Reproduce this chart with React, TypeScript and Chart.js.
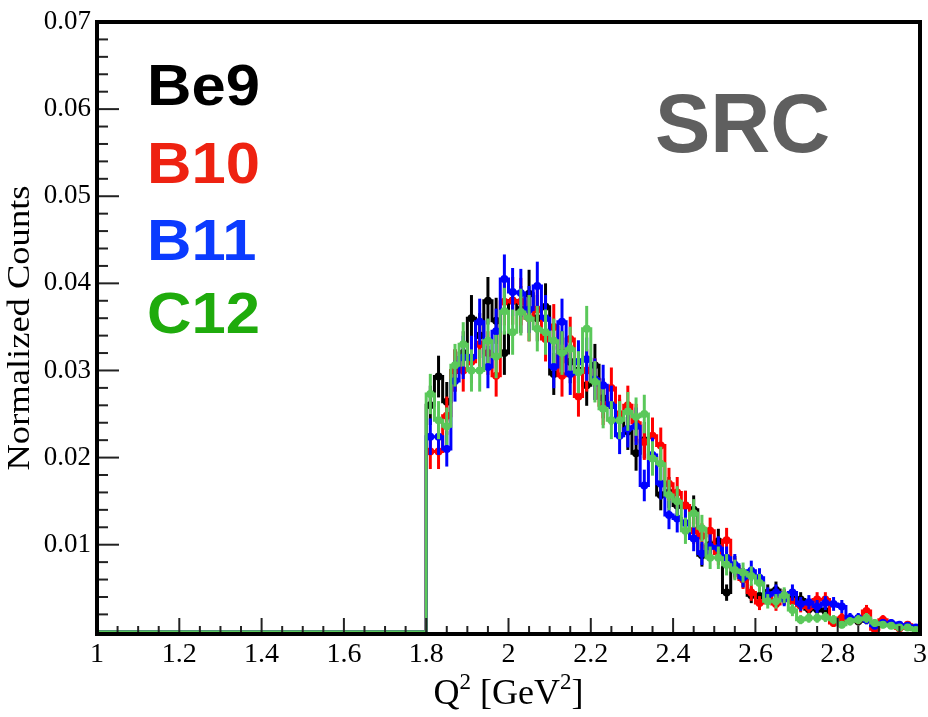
import React, { useEffect, useRef } from 'react';
import { Chart, registerables } from 'chart.js';
Chart.register(...registerables);

// ---- data (normalized counts per 0.02 GeV^2 bin, first bin starts at Q^2 = 1.80) ----
const histLow = 1.8;
const binWidth = 0.02;
const be9 = [
  0.0260, 0.0293, 0.0264, 0.0300, 0.0320, 0.0360, 0.0340, 0.0380, 0.0357, 0.0320,
  0.0380, 0.0370, 0.0388, 0.0360, 0.0373, 0.0296, 0.0320, 0.0310, 0.0300, 0.0283,
  0.0306, 0.0268, 0.0260, 0.0245, 0.0230, 0.0205, 0.0220, 0.0200, 0.0157, 0.0160,
  0.0145, 0.0145, 0.0140, 0.0088, 0.0100, 0.0104, 0.0045, 0.0075, 0.0062, 0.0042,
  0.0041, 0.0045, 0.0048, 0.0040, 0.0037, 0.0037, 0.0026, 0.0026, 0.0024, 0.0012,
  0.0015, 0.0014, 0.0012, 0.0014, 0.0008, 0.0010, 0.0008, 0.0006, 0.0006, 0.0003,
];
const b10 = [
  0.0207, 0.0207, 0.0248, 0.0300, 0.0300, 0.0310, 0.0330, 0.0320, 0.0294, 0.0379,
  0.0380, 0.0379, 0.0360, 0.0370, 0.0336, 0.0350, 0.0294, 0.0336, 0.0270, 0.0300,
  0.0290, 0.0260, 0.0280, 0.0250, 0.0260, 0.0240, 0.0218, 0.0225, 0.0214, 0.0170,
  0.0160, 0.0145, 0.0116, 0.0110, 0.0116, 0.0090, 0.0105, 0.0073, 0.0060, 0.0045,
  0.0033, 0.0040, 0.0032, 0.0040, 0.0035, 0.0030, 0.0028, 0.0037, 0.0037, 0.0010,
  0.0016, 0.0014, 0.0014, 0.0024, 0.0003, 0.0014, 0.0008, 0.0004, 0.0008, 0.0003,
];
const b11 = [
  0.0224, 0.0224, 0.0210, 0.0288, 0.0315, 0.0315, 0.0356, 0.0304, 0.0345, 0.0405,
  0.0390, 0.0389, 0.0370, 0.0397, 0.0360, 0.0304, 0.0356, 0.0296, 0.0310, 0.0313,
  0.0290, 0.0283, 0.0260, 0.0225, 0.0233, 0.0236, 0.0168, 0.0203, 0.0170, 0.0134,
  0.0130, 0.0125, 0.0107, 0.0090, 0.0098, 0.0096, 0.0085, 0.0077, 0.0062, 0.0070,
  0.0062, 0.0042, 0.0045, 0.0038, 0.0045, 0.0032, 0.0034, 0.0029, 0.0033, 0.0032,
  0.0029, 0.0016, 0.0016, 0.0014, 0.0007, 0.0010, 0.0010, 0.0008, 0.0007, 0.0005,
];
const c12 = [
  0.0273, 0.0243, 0.0236, 0.0306, 0.0330, 0.0300, 0.0300, 0.0334, 0.0316, 0.0368,
  0.0344, 0.0367, 0.0360, 0.0348, 0.0344, 0.0334, 0.0320, 0.0325, 0.0298, 0.0348,
  0.0287, 0.0256, 0.0243, 0.0243, 0.0253, 0.0247, 0.0250, 0.0199, 0.0193, 0.0157,
  0.0150, 0.0116, 0.0136, 0.0119, 0.0085, 0.0085, 0.0077, 0.0071, 0.0068, 0.0064,
  0.0056, 0.0035, 0.0035, 0.0042, 0.0025, 0.0014, 0.0016, 0.0016, 0.0017, 0.0014,
  0.0008, 0.0012, 0.0014, 0.0016, 0.0010, 0.0008, 0.0007, 0.0005, 0.0005, 0.0002,
];
const seriesNames = ['Be9', 'B10', 'B11', 'C12'];
const seriesValues = [be9, b10, b11, c12];
const lineColors = ['#000000', '#ff0000', '#0000ff', '#5ac85a'];
const labelColors = ['#000000', '#ee2211', '#0b3bff', '#1fab0c'];
const xTickValues = [1, 1.2, 1.4, 1.6, 1.8, 2, 2.2, 2.4, 2.6, 2.8, 3];
const yTickValues = [0.01, 0.02, 0.03, 0.04, 0.05, 0.06, 0.07];
const errScale = 0.014; // statistical error ~ sqrt(content)

const serif = "'Liberation Serif', 'Times New Roman', serif";
const sans = "'Liberation Sans', Arial, sans-serif";

const rootPlugin = {
  id: 'rootStyle',
  beforeDatasetDraw(chart: any, args: any) {
    const ds = chart.data.datasets[args.index];
    if (!ds.errors) return;
    const ctx = chart.ctx;
    const xs = chart.scales.x;
    const ys = chart.scales.y;
    ctx.save();
    ctx.strokeStyle = ds.pointBackgroundColor;
    ctx.lineWidth = 3;
    ds.data.forEach((p: any, i: number) => {
      const e = ds.errors[i];
      const px = xs.getPixelForValue(p.x);
      ctx.beginPath();
      ctx.moveTo(px, ys.getPixelForValue(p.y - e));
      ctx.lineTo(px, ys.getPixelForValue(p.y + e));
      ctx.stroke();
    });
    ctx.restore();
  },
  afterDatasetsDraw(chart: any) {
    const ctx = chart.ctx;
    const { left, right, top, bottom } = chart.chartArea;
    const xs = chart.scales.x;
    const ys = chart.scales.y;
    ctx.save();
    ctx.strokeStyle = '#222';
    ctx.lineWidth = 2;
    for (let k = 1; k < 35; k++) {
      const py = ys.getPixelForValue(k * 0.002);
      const len = k % 5 === 0 ? 22 : 11;
      ctx.beginPath();
      ctx.moveTo(left, py);
      ctx.lineTo(left + len, py);
      ctx.stroke();
    }
    for (let k = 1; k < 40; k++) {
      const px = xs.getPixelForValue(1 + k * 0.05);
      const len = k % 4 === 0 ? 16 : 8;
      ctx.beginPath();
      ctx.moveTo(px, bottom);
      ctx.lineTo(px, bottom - len);
      ctx.stroke();
    }
    ctx.strokeStyle = '#000';
    ctx.lineWidth = 4;
    ctx.strokeRect(left, top, right - left, bottom - top);
    ctx.restore();
  },
  afterDraw(chart: any) {
    const ctx = chart.ctx;
    const { left, right } = chart.chartArea;
    ctx.save();
    ctx.fillStyle = '#000';
    ctx.textBaseline = 'alphabetic';
    const big = `36px ${serif}`;
    const small = `23px ${serif}`;
    const parts: [string, string, number][] = [
      ['Q', big, 0], ['2', small, -15], [' [GeV', big, 0], ['2', small, -15], [']', big, 0],
    ];
    let total = 0;
    parts.forEach(([t, f]) => { ctx.font = f; total += ctx.measureText(t).width; });
    let x = (left + right) / 2 - total / 2;
    parts.forEach(([t, f, dy]) => {
      ctx.font = f;
      ctx.textAlign = 'left';
      ctx.fillText(t, x, 704 + dy);
      x += ctx.measureText(t).width;
    });
    ctx.save();
    ctx.translate(29, (chart.chartArea.top + chart.chartArea.bottom) / 2);
    ctx.rotate(-Math.PI / 2);
    ctx.font = `31px ${serif}`;
    const w = ctx.measureText('Normalized Counts').width;
    ctx.scale(285 / w, 1);
    ctx.textAlign = 'center';
    ctx.fillText('Normalized Counts', 0, 0);
    ctx.restore();
    const baselines = [105, 183, 260, 333];
    seriesNames.forEach((n, i) => {
      ctx.save();
      ctx.translate(147, baselines[i]);
      ctx.scale(1.08, 1);
      ctx.font = `bold 57px ${sans}`;
      ctx.textAlign = 'left';
      ctx.fillStyle = labelColors[i];
      ctx.fillText(n, 0, 0);
      ctx.restore();
    });
    ctx.font = `bold 83px ${sans}`;
    ctx.textAlign = 'left';
    ctx.fillStyle = '#5f5f5f';
    ctx.fillText('SRC', 655, 152);
    ctx.restore();
  },
};

export default function App() {
  const ref = useRef<HTMLCanvasElement>(null);
  useEffect(() => {
    document.body.style.margin = '0';
    const datasets: any[] = [];
    seriesValues.forEach((vals, s) => {
      const order = (3 - s) * 2;
      const steps: any[] = [{ x: 1, y: 0 }];
      vals.forEach((v, i) => steps.push({ x: histLow + binWidth * i, y: v }));
      steps.push({ x: histLow + binWidth * vals.length, y: vals[vals.length - 1] });
      datasets.push({
        label: seriesNames[s] + ' hist',
        data: steps,
        stepped: 'before',
        borderColor: lineColors[s],
        borderWidth: 3,
        pointRadius: 0,
        fill: false,
        clip: false,
        order: order + 1,
      });
      datasets.push({
        label: seriesNames[s],
        data: vals.map((v, i) => ({ x: histLow + binWidth * (i + 0.5), y: v })),
        errors: vals.map((v) => errScale * Math.sqrt(v)),
        showLine: false,
        pointRadius: 4,
        pointBorderWidth: 0,
        pointBackgroundColor: lineColors[s],
        pointBorderColor: lineColors[s],
        clip: false,
        order: order,
      });
    });
    const chart = new Chart(ref.current!, {
      type: 'line',
      data: { datasets },
      options: {
        animation: false,
        responsive: false,
        maintainAspectRatio: false,
        layout: { padding: { left: 0, right: 8, top: 22, bottom: 0 } },
        plugins: { legend: { display: false }, tooltip: { enabled: false }, title: { display: false } },
        scales: {
          x: {
            type: 'linear',
            min: 1,
            max: 3,
            grid: { display: false, drawTicks: false },
            border: { display: false },
            afterBuildTicks: (s: any) => { s.ticks = xTickValues.map((v) => ({ value: v })); },
            afterFit: (s: any) => { s.height = 83; s.paddingLeft = 0; s.paddingRight = 0; },
            ticks: {
              font: { family: serif, size: 28 },
              color: '#000',
              padding: 4,
              maxRotation: 0,
              autoSkip: false,
              callback: (v: any) => String(+Number(v).toFixed(1)),
            },
          },
          y: {
            type: 'linear',
            min: -0.00025,
            max: 0.07,
            grid: { display: false, drawTicks: false },
            border: { display: false },
            afterBuildTicks: (s: any) => { s.ticks = yTickValues.map((v) => ({ value: v })); },
            afterFit: (s: any) => { s.width = 97; s.paddingTop = 0; s.paddingBottom = 0; },
            ticks: {
              font: { family: serif, size: 27 },
              color: '#000',
              padding: 6,
              autoSkip: false,
              callback: (v: any) => Number(v).toFixed(2),
            },
          },
        },
      } as any,
      plugins: [rootPlugin],
    });
    return () => chart.destroy();
  }, []);
  return (
    <div style={{ position: 'absolute', left: 0, top: 0, width: 928, height: 717 }}>
      <canvas ref={ref} width={928} height={717} style={{ width: 928, height: 717 }} />
    </div>
  );
}
